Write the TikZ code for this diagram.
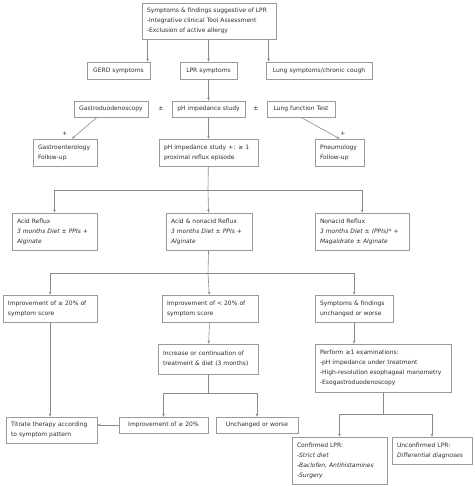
\documentclass[tikz,border=0pt]{standalone}
\usepackage{fontspec}
\setmainfont{DejaVu Sans}
\usetikzlibrary{arrows.meta}
\definecolor{bordergray}{HTML}{9A9A9A}
\definecolor{linegray}{HTML}{8A8A8A}
\definecolor{txtgray}{HTML}{2E2E2E}
\tikzset{
  box/.style={draw=bordergray, line width=0.7pt, fill=white, rectangle,
    inner xsep=5pt, inner ysep=2pt, align=left, text=txtgray,
    font=\fontsize{6}{10}\selectfont},
  conn/.style={draw=linegray, line width=0.6pt},
  arr/.style={conn, -{Stealth[length=3pt,width=2.6pt]}},
  lbl/.style={text=txtgray, font=\fontsize{6}{8}\selectfont, inner sep=0pt},
}
\newcommand\bx[7][]{%
  \pgfmathsetmacro\bw{#5-#3}\pgfmathsetmacro\bh{#6-#4}%
  \pgfmathsetmacro\bcx{(#3+#5)/2}\pgfmathsetmacro\bcy{(#4+#6)/2}%
  \pgfmathsetmacro\btw{#5-#3-10}%
  \node[box,minimum width=\bw pt,minimum height=\bh pt,text width=\btw pt,#1] (#2) at (\bcx,\bcy) {#7};}
\begin{document}
\begin{tikzpicture}[x=1pt,y=-1pt]
\useasboundingbox (0,0) rectangle (474,487);
% boxes
\bx{top}{142}{3}{276}{39}{Symptoms \& findings suggestive of LPR\\-Integrative clinical Tool Assessment\\-Exclusion of active allergy}
\bx[align=center]{gerd}{87}{62}{150}{79}{GERD symptoms}
\bx[align=center]{lpr}{180}{62}{237}{79}{LPR symptoms}
\bx[align=center]{lung}{266}{62}{372}{79}{Lung symptoms/chronic cough}
\bx[align=center]{gastro}{74}{101}{148}{117}{Gastroduodenoscopy}
\bx[align=center]{ph}{172}{101}{245}{117}{pH impedance study}
\bx[align=center]{lungf}{267}{101}{335}{117}{Lung function Test}
\bx{gfu}{33}{139}{97}{166}{Gastroenterology\\Follow-up}
\bx{phpos}{159}{139}{258}{166}{pH impedance study +: ≥ 1\\proximal reflux episode}
\bx{pfu}{315}{139}{364}{166}{Pneumology\\Follow-up}
\bx{acid}{12}{213}{97}{250}{Acid Reflux\\\textit{3 months Diet ± PPIs +}\\\textit{Alginate}}
\bx{mixed}{166}{213}{252}{250}{Acid \& nonacid Reflux\\\textit{3 months Diet ± PPIs +}\\\textit{Alginate}}
\bx{nonacid}{315}{213}{409}{250}{Nonacid Reflux\\\textit{3 months Diet ± (PPIs)* +}\\\textit{Magaldrate ± Alginate}}
\bx{impA}{3}{295}{97}{322}{Improvement of ≥ 20\% of\\symptom score}
\bx{impB}{162}{295}{258}{322}{Improvement of < 20\% of\\symptom score}
\bx{impC}{315}{295}{393}{322}{Symptoms \& findings\\unchanged or worse}
\bx{incr}{158}{344}{258}{374}{Increase or continuation of\\treatment \textit{\&} diet (3 months)}
\bx{perf}{315}{344}{451}{392}{Perform ≥1 examinations:\\-pH impedance under treatment\\-High-resolution esophageal manometry\\-Esogastroduodenoscopy}
\bx{titr}{6}{417}{97}{443}{Titrate therapy according\\to symptom pattern}
\bx[align=center]{imp20}{119}{417}{208}{433}{Improvement of ≥ 20\%}
\bx[align=center]{unch}{216}{417}{298}{433}{Unchanged or worse}
\bx{conf}{292}{437}{387}{484}{Confirmed LPR:\\\textit{-Strict diet}\\\textit{-Baclofen, Antihistamines}\\\textit{-Surgery}}
\bx{unconf}{392}{437}{472}{464}{Unconfirmed LPR:\\\textit{Differential diagnoses}}
% labels
\node[lbl] (pm1) at (161,109) {±};
\node[lbl] (pm2) at (256,109) {±};
\node[lbl] (plus1) at (65,134) {+};
\node[lbl] (plus2) at (343,134) {+};
% junctions
\coordinate (j1) at (208,190);
\coordinate (j2) at (208,273);
\coordinate (j3) at (208,393);
\coordinate (j4) at (383,414);
% connectors
\draw[arr] ([xshift=6pt]top.south west) -- ([xshift=6pt]top.south west |- gerd.north);
\draw[arr] (top.south -| lpr.north) -- (lpr.north);
\draw[arr] ([xshift=127pt]top.south west) -- ([xshift=127pt]top.south west |- lung.north);
\draw[arr] (lpr) -- (ph);
\draw[arr] (ph) -- (phpos);
\draw[arr] ([xshift=-14pt]gastro.south) -- ([xshift=7pt]gfu.north);
\draw[arr] (lungf.south) -- (pfu.north);
\draw[conn] (phpos) -- (j1);
\draw[arr] (j1) -| (acid);
\draw[arr] (j1) -- (mixed);
\draw[arr] (j1) -| (nonacid);
\draw[conn] (mixed) -- (j2);
\draw[arr] (j2) -| (impA);
\draw[arr] (j2) -- (impB);
\draw[arr] (j2) -| (impC);
\draw[arr] (impA) -- (impA.south |- titr.north);
\draw[arr] (impB) -- (incr);
\draw[arr] (impC) -- (impC.south |- perf.north);
\draw[conn] (incr) -- (j3);
\draw[arr] (j3) -| (imp20);
\draw[arr] (j3) -| (unch);
\draw[arr] (imp20.west) -- (imp20.west -| titr.east);
\draw[conn] (perf.south) -- (j4);
\draw[arr] (j4) -| (conf);
\draw[arr] (j4) -| (unconf);
\end{tikzpicture}
\end{document}
